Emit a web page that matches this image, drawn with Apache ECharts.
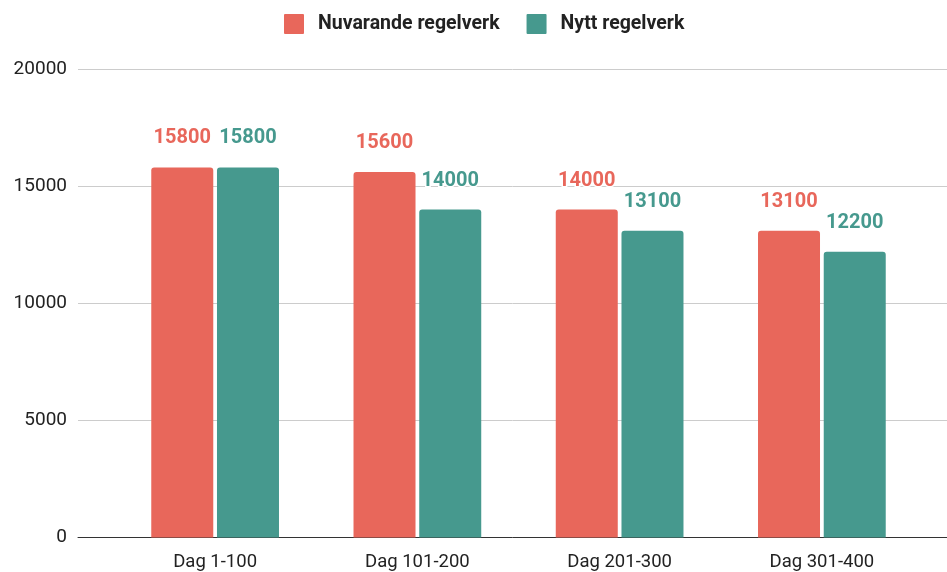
<!DOCTYPE html>
<html>
<head>
<meta charset="utf-8">
<script src="https://cdn.jsdelivr.net/npm/echarts@6/dist/echarts.min.js"></script>
<style>
html,body{margin:0;padding:0;background:#fff;}
#chart{width:947px;height:572px;}
</style>
</head>
<body>
<div id="chart"></div>
<script>
const categories = ['Dag 1-100', 'Dag 101-200', 'Dag 201-300', 'Dag 301-400'];
const seriesNames = ['Nuvarande regelverk', 'Nytt regelverk'];
const nuvarande = [15800, 15600, 14000, 13100];
const nytt = [15800, 14000, 13100, 12200];
const yTicks = [0, 5000, 10000, 15000, 20000];

const RED = '#e8675b';
const GREEN = '#46998e';
const FONT = 'Roboto';

const chart = echarts.init(document.getElementById('chart'), null, {renderer: 'canvas'});

function labelCfg(color) {
  return {
    show: true,
    position: 'top',
    distance: 19,
    color: color,
    fontFamily: FONT,
    fontWeight: 'bold',
    fontSize: 20,
    textBorderColor: '#fff',
    textBorderWidth: 3
  };
}

const option = {
  animation: false,
  backgroundColor: '#fff',
  legend: {
    top: 9,
    left: 279,
    itemWidth: 20,
    itemHeight: 20,
    itemGap: 27,
    icon: 'path://M1,0 L19,0 Q20,0 20,1 L20,19 Q20,20 19,20 L1,20 Q0,20 0,19 L0,1 Q0,0 1,0 Z',
    textStyle: {fontFamily: FONT, fontWeight: 'bold', fontSize: 19.5, color: '#222', padding: [0, 0, 0, 9]},
    data: seriesNames
  },
  grid: [
    {left: 78, right: 0, top: 69, bottom: 34.5},
    {left: 114, right: 24, top: 69, bottom: 34.5}
  ],
  xAxis: [
    {
      gridIndex: 0, type: 'category', data: categories,
      axisLine: {show: true, lineStyle: {color: '#333', width: 1}},
      axisTick: {show: false}, axisLabel: {show: false}, splitLine: {show: false}
    },
    {
      gridIndex: 1, type: 'category', data: categories,
      axisLine: {show: false}, axisTick: {show: false},
      axisLabel: {show: true, margin: 15, fontFamily: FONT, fontSize: 18.5, color: '#222'}
    }
  ],
  yAxis: [
    {
      gridIndex: 0, type: 'value', min: yTicks[0], max: yTicks[yTicks.length - 1], interval: 5000,
      axisLine: {show: false}, axisTick: {show: false},
      axisLabel: {margin: 11, fontFamily: FONT, fontSize: 19, color: '#222', formatter: function (v) { return String(v); }},
      splitLine: {show: true, lineStyle: {color: '#cccccc', width: 1}}
    },
    {
      gridIndex: 1, type: 'value', min: yTicks[0], max: yTicks[yTicks.length - 1], interval: 5000,
      show: false, splitLine: {show: false}
    }
  ],
  series: [
    {
      name: seriesNames[0], type: 'bar', xAxisIndex: 1, yAxisIndex: 1,
      data: nuvarande, barWidth: 62, barGap: '6%',
      itemStyle: {color: RED, borderRadius: [3, 3, 0, 0]},
      label: labelCfg(RED)
    },
    {
      name: seriesNames[1], type: 'bar', xAxisIndex: 1, yAxisIndex: 1,
      data: nytt, barWidth: 62, barGap: '6%',
      itemStyle: {color: GREEN, borderRadius: [3, 3, 0, 0]},
      label: labelCfg(GREEN)
    }
  ]
};
chart.setOption(option);
</script>
</body>
</html>
